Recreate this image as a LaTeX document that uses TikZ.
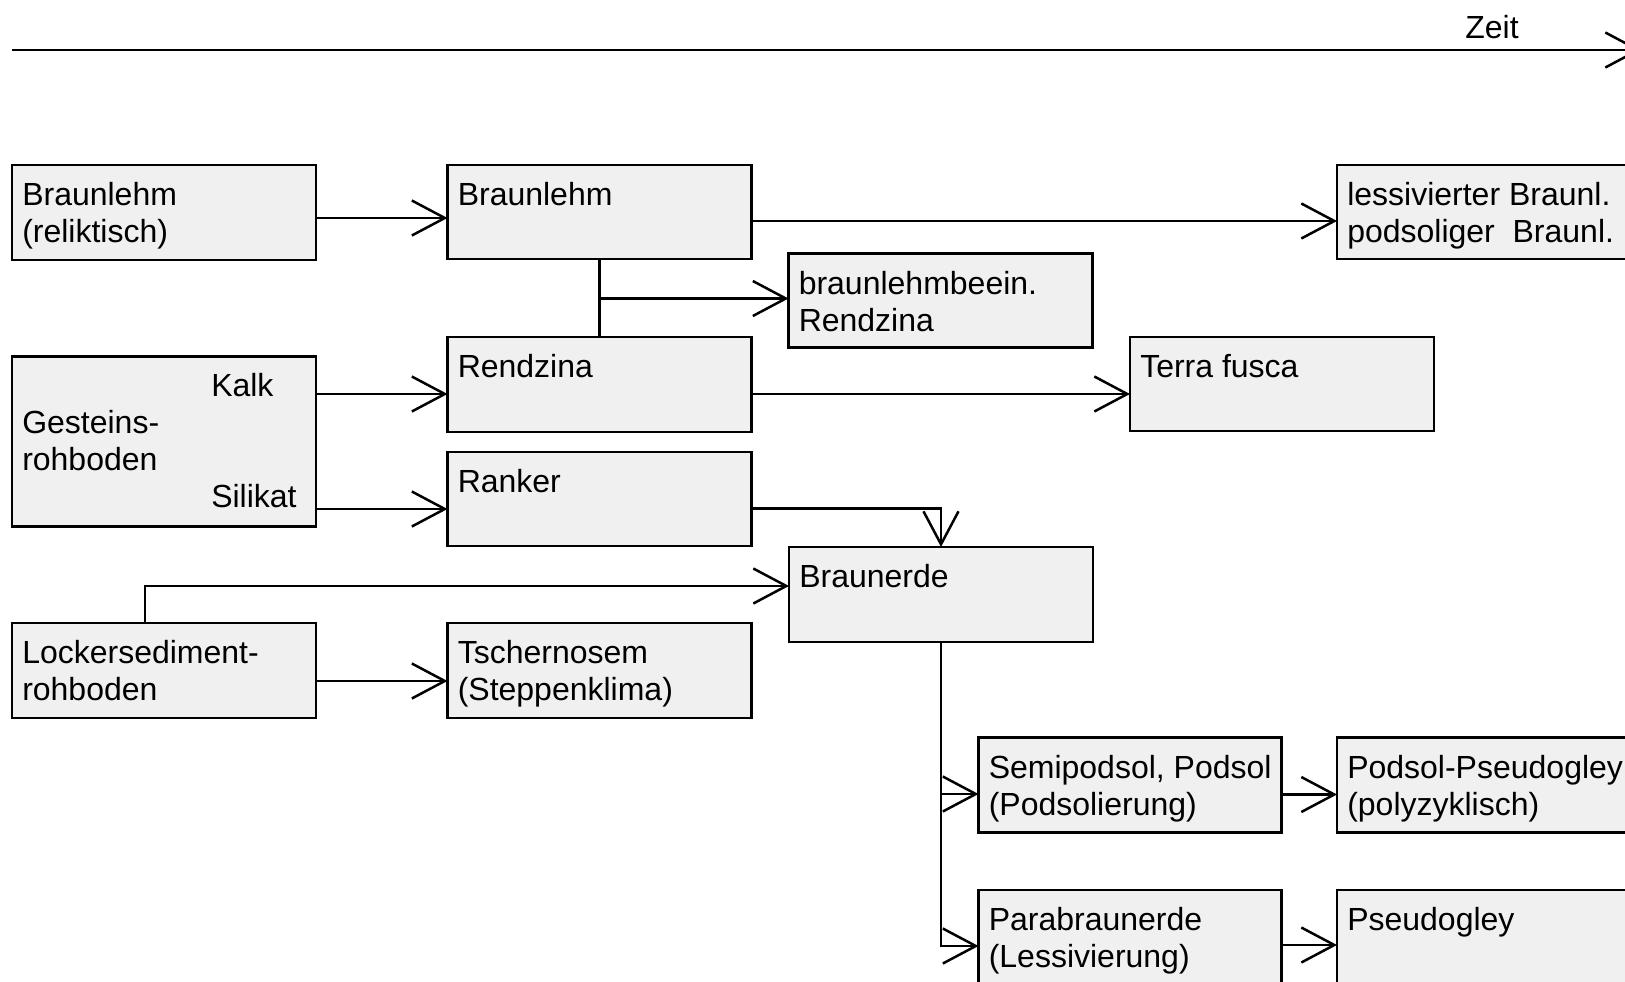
\documentclass[tikz,border=0pt]{standalone}
\usepackage{fontspec}
\setmainfont{Liberation Sans}
\usetikzlibrary{arrows.meta,calc}
\definecolor{boxfill}{RGB}{240,240,240}
\newcommand\topstrut{\rule{0pt}{30pt}}
\begin{document}
\begin{tikzpicture}[x=1pt,y=-1pt,
  line width=2.5pt,
  soilbox/.style={draw=black, fill=boxfill, rectangle, anchor=north west,
    inner sep=0pt, outer sep=0pt, minimum width=304pt, minimum height=95pt},
  boxtext/.style={anchor=north west, inner sep=0pt, align=left,
    font=\fontsize{32}{37}\selectfont},
  flow/.style={-{Straight Barb[length=33pt,width=35pt]}}
]
\clip (0,0) rectangle (1625,982);

% time axis
\coordinate (t0) at (12,50);
\coordinate (t1) at (1641,50);
\draw[flow] (t0) -- (t1);
\node[anchor=base, inner sep=0pt, font=\fontsize{32}{37}\selectfont] (zeit) at (1492,38.5) {Zeit};

% soil boxes
\node[soilbox] (b1)  at (12,165)      {};
\node[soilbox, minimum height=94pt] (b2)  at (447.5,165) {};
\node[soilbox, minimum height=94pt] (b3)  at (1337,165)  {};
\node[soilbox, minimum height=94pt] (b4)  at (788.5,253.5) {};
\node[soilbox] (b5)  at (447.5,337)   {};
\node[soilbox, minimum height=94pt] (b6)  at (1130,337)  {};
\node[soilbox, minimum height=170pt] (b7) at (12,356.5)  {};
\node[soilbox, minimum height=94pt] (b8)  at (447.5,452) {};
\node[soilbox] (b9)  at (789,547)     {};
\node[soilbox] (b10) at (12,623)      {};
\node[soilbox] (b11) at (447.5,623)   {};
\node[soilbox, minimum width=303pt] (b12) at (978.5,737.5) {};
\node[soilbox] (b13) at (1337,737.5)  {};
\node[soilbox, minimum width=303pt] (b14) at (978.5,890) {};
\node[soilbox] (b15) at (1337,890)    {};

% box labels
\node[boxtext] (l1)  at ($(b1.north west)+(9,9.5)$)  {\topstrut Braunlehm\\(reliktisch)};
\node[boxtext] (l2)  at ($(b2.north west)+(9,9.5)$)  {\topstrut Braunlehm};
\node[boxtext] (l3)  at ($(b3.north west)+(9,9.5)$)  {\topstrut lessivierter Braunl.\\podsoliger\ \ Braunl.};
\node[boxtext] (l4)  at ($(b4.north west)+(9,9.5)$)  {\topstrut braunlehmbeein.\\Rendzina};
\node[boxtext] (l5)  at ($(b5.north west)+(9,9.5)$)  {\topstrut Rendzina};
\node[boxtext] (l6)  at ($(b6.north west)+(9,9.5)$)  {\topstrut Terra fusca};
\node[boxtext] (l7)  at ($(b7.north west)+(9,9)$)    {\topstrut\hspace*{189pt}Kalk\\Gesteins-\\rohboden\\\hspace*{189pt}Silikat};
\node[boxtext] (l8)  at ($(b8.north west)+(9,9.5)$)  {\topstrut Ranker};
\node[boxtext] (l9)  at ($(b9.north west)+(9,9.5)$)  {\topstrut Braunerde};
\node[boxtext] (l10) at ($(b10.north west)+(9,9.5)$) {\topstrut Lockersediment-\\rohboden};
\node[boxtext] (l11) at ($(b11.north west)+(9,9.5)$) {\topstrut Tschernosem\\(Steppenklima)};
\node[boxtext] (l12) at ($(b12.north west)+(9,9.5)$) {\topstrut Semipodsol, Podsol\\(Podsolierung)};
\node[boxtext] (l13) at ($(b13.north west)+(9,9.5)$) {\topstrut Podsol-Pseudogley\\(polyzyklisch)};
\node[boxtext] (l14) at ($(b14.north west)+(9,9.5)$) {\topstrut Parabraunerde\\(Lessivierung)};
\node[boxtext] (l15) at ($(b15.north west)+(9,9.5)$) {\topstrut Pseudogley};

% connectors
\coordinate (a1) at ([yshift=-5.5pt]b1.east);
\draw[flow] (a1) -- (a1 -| b2.west);
\coordinate (a2) at ([yshift=-9pt]b2.east);
\draw[flow] (a2) -- (a2 -| b3.west);
\draw (b2.south) -- (b5.north);
\coordinate (a3) at ([yshift=2pt]b4.west);
\draw[flow] (a3 -| b2.south) -- (a3);
\coordinate (a4) at ([yshift=-9.5pt]b5.east);
\draw[flow] (a4) -- (a4 -| b6.west);
\coordinate (a5) at ([yshift=-9.5pt]b5.west);
\draw[flow] (a5 -| b7.east) -- (a5);
\coordinate (a6) at ([yshift=-10pt]b8.west);
\draw[flow] (a6 -| b7.east) -- (a6);
\coordinate (a7) at ([yshift=-9.5pt]b8.east);
\draw[flow] (a7) -| (b9.north);
\coordinate (a8) at ([xshift=-19pt]b10.north);
\coordinate (a9) at ([yshift=8.5pt]b9.west);
\draw[flow] (a8) |- (a9);
\coordinate (a10) at ([yshift=-10.5pt]b10.east);
\draw[flow] (a10) -- (a10 -| b11.west);
\coordinate (a11) at ([yshift=-9pt]b12.west);
\coordinate (a12) at ([yshift=-8.5pt]b14.west);
\draw[flow] (b9.south) |- (a12);
\draw[flow] (b9.south |- a11) -- (a11);
\coordinate (a13) at ([yshift=-9.5pt]b12.east);
\draw[flow] (a13) -- (a13 -| b13.west);
\coordinate (a14) at ([yshift=-7.5pt]b14.east);
\draw[flow] (a14) -- (a14 -| b15.west);
\end{tikzpicture}
\end{document}
